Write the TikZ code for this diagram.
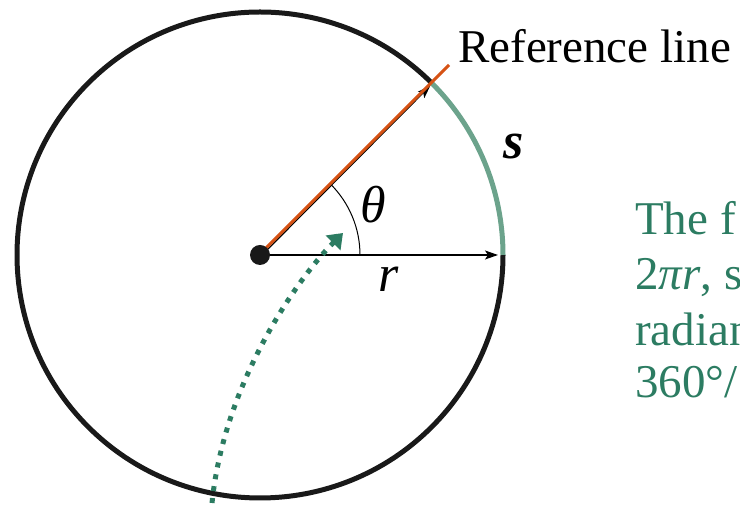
\documentclass[tikz,border=0pt]{standalone}
\usepackage{fontspec}
\setmainfont{Liberation Serif}
\usetikzlibrary{arrows.meta}
\definecolor{orangeln}{RGB}{214,82,20}
\definecolor{arcgreen}{RGB}{108,163,140}
\definecolor{dkgreen}{RGB}{44,124,98}
\begin{document}
\begin{tikzpicture}[x=1pt,y=1pt,
  lbl/.style={font=\fontsize{52}{60}\selectfont, inner sep=0pt},
  greentxt/.style={font=\fontsize{47}{54}\selectfont, text=dkgreen, anchor=base west, inner sep=0pt},
  thinarrow/.style={line width=1.3pt, -{Stealth[length=13pt,width=9pt,inset=3pt]}},
  rim/.style={line width=5pt}]
\useasboundingbox (0,0) rectangle (740,505);
\clip (0,0) rectangle (740,505);
\coordinate (C) at (260,250);
\coordinate (P) at (431.8,421.8);
\coordinate (E) at (498,250);
\coordinate (O) at (449,440);
% circle
\draw[rim, black!90] (C) ++(45:243) arc[start angle=45, end angle=360, radius=243];
\draw[rim, arcgreen] (C) ++(0:243) arc[start angle=0, end angle=45, radius=243];
% angle arc
\draw[line width=1pt] (C) ++(0:100) arc[start angle=0, end angle=45, radius=100];
% radius arrows
\draw[thinarrow] (C) -- (E);
\draw[thinarrow] ([shift={(1,-1)}]C) -- ([shift={(-1.5,-2.5)}]P);
\draw[line width=3pt, orangeln] ([shift={(-0.5,0.5)}]C) -- (O);
% dotted curve
\coordinate (D0) at (212,2);
\coordinate (D1) at (343,272);
\draw[dkgreen, line width=5pt, dash pattern=on 5pt off 7pt,
  -{Triangle[length=14pt,width=20pt]}]
  (D0) .. controls (224,122) and (297,226) .. (D1);
% center dot
\fill[black!90] (C) circle[radius=10];
% labels
\node[lbl] (th) at (373,300) {\itshape θ};
\node[lbl] (rl) at (389,226) {\itshape r};
\node[lbl] (sl) at (514,358) {\bfseries\itshape s};
\node[greentxt, text=black] (ref) at (458,442) {Reference line};
\node[greentxt] (t1) at (635,270) {The f};
\node[greentxt] (t2) at (635,215) {2\textit{πr}, s};
\node[greentxt] (t3) at (635,159) {radian};
\node[greentxt] (t4) at (635,107) {360°/};
\end{tikzpicture}
\end{document}
